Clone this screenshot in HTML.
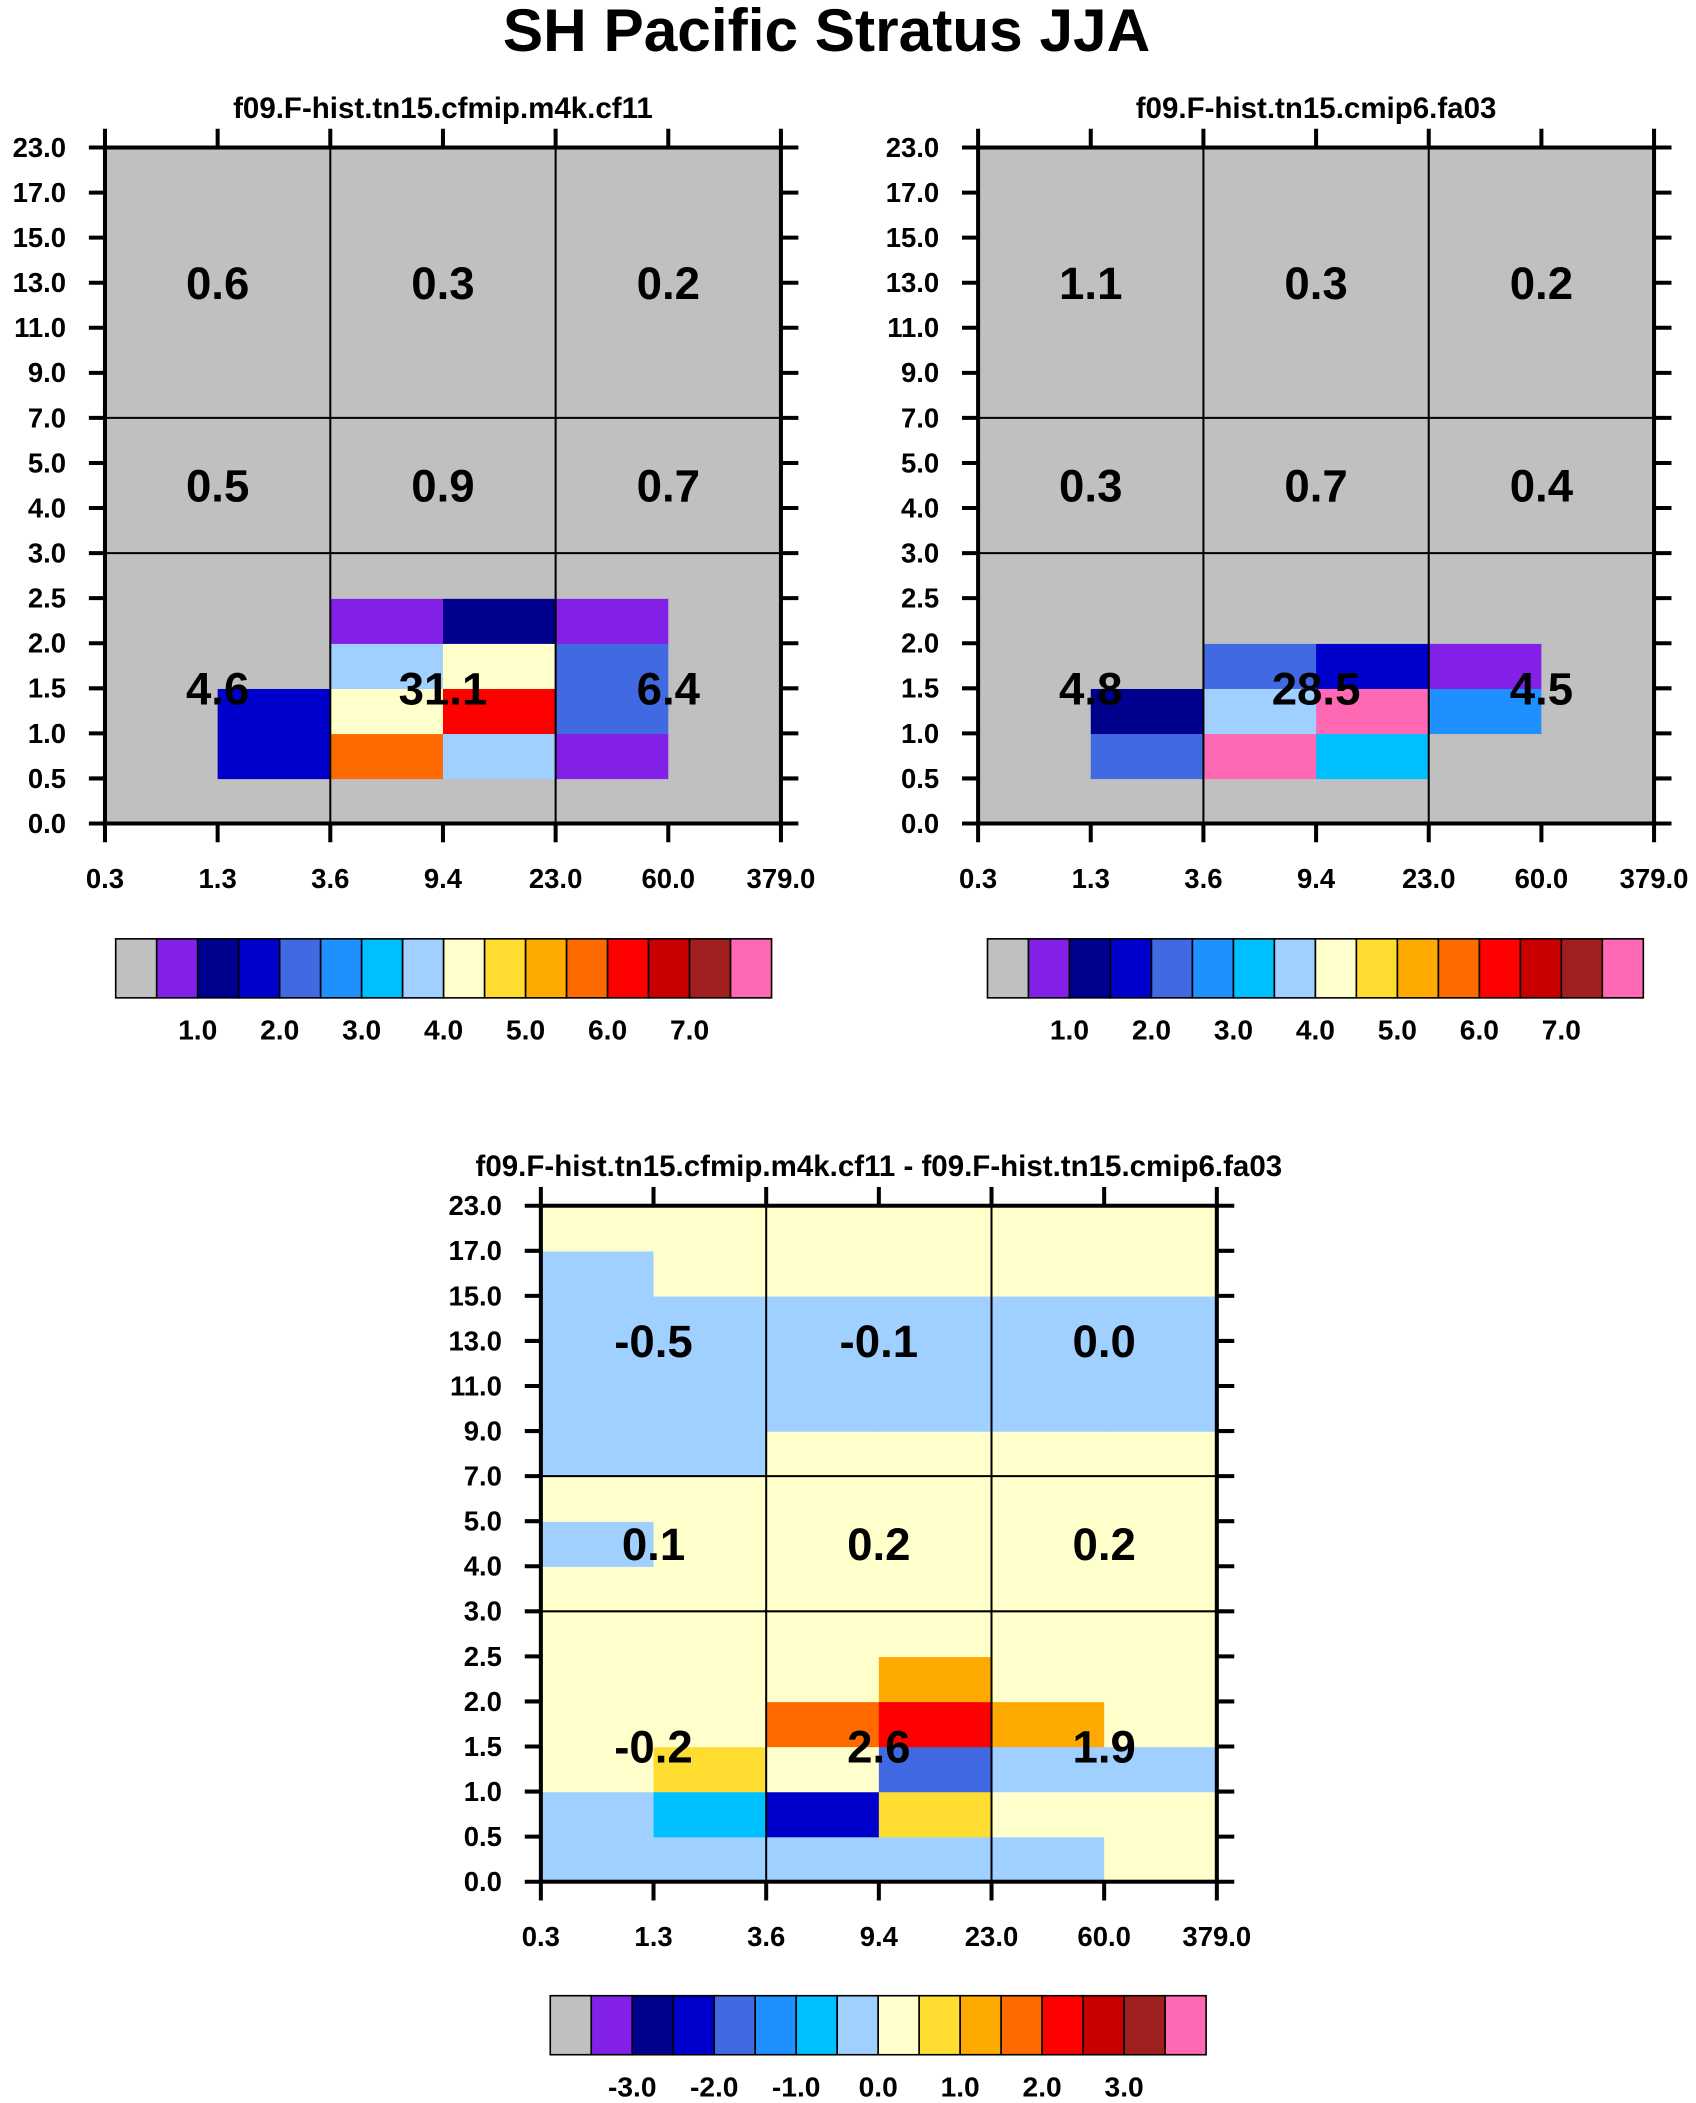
<!DOCTYPE html>
<html><head><meta charset="utf-8"><style>
html,body{margin:0;padding:0;background:#fff;}
svg{display:block;font-family:"Liberation Sans",Arial,sans-serif;font-weight:bold;}
</style></head><body>
<svg id="fig" width="1696" height="2103" viewBox="0 0 1264 1568" xmlns="http://www.w3.org/2000/svg">
<text x="616" y="38" font-size="45" text-anchor="middle">SH Pacific Stratus JJA</text>
</svg>
<script>
const xTickLabels=["0.3","1.3","3.6","9.4","23.0","60.0","379.0"];
const yTickLabels=["0.0","0.5","1.0","1.5","2.0","2.5","3.0","4.0","5.0","7.0","9.0","11.0","13.0","15.0","17.0","23.0"];
const palette=["#c0c0c0","#8220e8","#00008f","#0000cd","#4169e1","#1e90ff","#00bfff","#a0d0ff","#ffffcc","#ffdd30","#ffaa00","#ff6a00","#ff0000","#c80000","#a02020","#ff69b4"];
const levelsA=[0.5,1,1.5,2,2.5,3,3.5,4,4.5,5,5.5,6,6.5,7,7.5];
const levelsD=[-3.5,-3,-2.5,-2,-1.5,-1,-0.5,0,0.5,1,1.5,2,2.5,3,3.5];
const barLabelsA=["1.0","2.0","3.0","4.0","5.0","6.0","7.0"];
const barLabelsD=["-3.0","-2.0","-1.0","0.0","1.0","2.0","3.0"];
const valuesA=[
[0.2,0.2,0.2,0.2,0.2,0.2],
[0.2,1.8,5.8,3.8,0.8,0.2],
[0.2,1.8,4.2,6.2,2.2,0.2],
[0.2,0.2,3.8,4.2,2.2,0.2],
[0.2,0.2,0.8,1.2,0.8,0.2],
[0.2,0.2,0.2,0.2,0.2,0.2],[0.2,0.2,0.2,0.2,0.2,0.2],[0.2,0.2,0.2,0.2,0.2,0.2],[0.2,0.2,0.2,0.2,0.2,0.2],
[0.2,0.2,0.2,0.2,0.2,0.2],[0.2,0.2,0.2,0.2,0.2,0.2],[0.2,0.2,0.2,0.2,0.2,0.2],[0.2,0.2,0.2,0.2,0.2,0.2],
[0.2,0.2,0.2,0.2,0.2,0.2],[0.2,0.2,0.2,0.2,0.2,0.2]];
const valuesB=[
[0.2,0.2,0.2,0.2,0.2,0.2],
[0.2,2.2,7.8,3.2,0.2,0.2],
[0.2,1.2,3.8,7.8,2.8,0.2],
[0.2,0.2,2.2,1.8,0.8,0.2],
[0.2,0.2,0.2,0.2,0.2,0.2],
[0.2,0.2,0.2,0.2,0.2,0.2],[0.2,0.2,0.2,0.2,0.2,0.2],[0.2,0.2,0.2,0.2,0.2,0.2],[0.2,0.2,0.2,0.2,0.2,0.2],
[0.2,0.2,0.2,0.2,0.2,0.2],[0.2,0.2,0.2,0.2,0.2,0.2],[0.2,0.2,0.2,0.2,0.2,0.2],[0.2,0.2,0.2,0.2,0.2,0.2],
[0.2,0.2,0.2,0.2,0.2,0.2],[0.2,0.2,0.2,0.2,0.2,0.2]];
const valuesD=[
[-0.2,-0.2,-0.2,-0.2,-0.2,0.2],
[-0.2,-0.8,-2.2,0.8,0.2,0.2],
[0.2,0.8,0.2,-1.8,-0.2,-0.2],
[0.2,0.2,1.8,2.2,1.2,0.2],
[0.2,0.2,0.2,1.2,0.2,0.2],
[0.2,0.2,0.2,0.2,0.2,0.2],
[0.2,0.2,0.2,0.2,0.2,0.2],
[-0.2,0.2,0.2,0.2,0.2,0.2],
[0.2,0.2,0.2,0.2,0.2,0.2],
[-0.2,-0.2,0.2,0.2,0.2,0.2],
[-0.2,-0.2,-0.2,-0.2,-0.2,-0.2],
[-0.2,-0.2,-0.2,-0.2,-0.2,-0.2],
[-0.2,-0.2,-0.2,-0.2,-0.2,-0.2],
[-0.2,0.2,0.2,0.2,0.2,0.2],
[0.2,0.2,0.2,0.2,0.2,0.2]];
const totalsA=[["0.6","0.3","0.2"],["0.5","0.9","0.7"],["4.6","31.1","6.4"]];
const totalsB=[["1.1","0.3","0.2"],["0.3","0.7","0.4"],["4.8","28.5","4.5"]];
const totalsD=[["-0.5","-0.1","0.0"],["0.1","0.2","0.2"],["-0.2","2.6","1.9"]];

const NS="http://www.w3.org/2000/svg";
const svg=document.getElementById('fig');
function el(tag,attrs,parent){const e=document.createElementNS(NS,tag);for(const k in attrs)e.setAttribute(k,attrs[k]);(parent||svg).appendChild(e);return e;}
function colorOf(v,levels){let i=0;while(i<levels.length&&v>=levels[i])i++;return palette[i];}

function panel(name,x0,y0,title,vals,levels,totals,barX,barY,barLabels){
  const W=504,H=504,nx=6,ny=15;
  const g=el('g',{});
  
  
  const xs=i=>x0+i*W/nx, ys=j=>y0+H-j*H/ny;
  const t=el('text',{x:x0+W/2,y:y0-22,'font-size':22,'text-anchor':'middle'},g);
  
  
  t.textContent=title;
  for(let j=0;j<ny;j++)for(let i=0;i<nx;i++){
    const r=el('rect',{x:xs(i),y:ys(j+1),width:W/nx+0.5,height:H/ny+0.5,fill:colorOf(vals[j][i],levels)},g);
    
    
  }
  [2,4].forEach(i=>{const l=el('line',{x1:xs(i),x2:xs(i),y1:y0,y2:y0+H,stroke:'#000','stroke-width':1.5},g);
    });
  [6,9].forEach(j=>{const l=el('line',{x1:x0,x2:x0+W,y1:ys(j),y2:ys(j),stroke:'#000','stroke-width':1.5},g);
    });
  const b=el('rect',{x:x0,y:y0,width:W,height:H,fill:'none',stroke:'#000','stroke-width':3},g);
  
  yTickLabels.forEach((lab,j)=>{
    const y=ys(j);
    el('line',{x1:x0-12,x2:x0,y1:y,y2:y,stroke:'#000','stroke-width':3},g);
    el('line',{x1:x0+W,x2:x0+W+13,y1:y,y2:y,stroke:'#000','stroke-width':3},g);
    const tt=el('text',{x:x0-29,y:y+7,'font-size':20.5,'text-anchor':'end'},g);
    
    tt.textContent=lab;
  });
  xTickLabels.forEach((lab,i)=>{
    const x=xs(i);
    el('line',{x1:x,x2:x,y1:y0-14,y2:y0,stroke:'#000','stroke-width':3},g);
    el('line',{x1:x,x2:x,y1:y0+H,y2:y0+H+14,stroke:'#000','stroke-width':3},g);
    const tt=el('text',{x:x,y:y0+H+48,'font-size':20.5,'text-anchor':'middle'},g);
    
    tt.textContent=lab;
  });
  const cy=[ (ys(15)+ys(9))/2, (ys(9)+ys(6))/2, (ys(6)+ys(0))/2 ];
  totals.forEach((row,r)=>row.forEach((s,c)=>{
    const tt=el('text',{x:xs(2*c+1),y:cy[r]+12,'font-size':34,'text-anchor':'middle'},g);
    
    tt.textContent=s;
  }));
  const bw=489/16;
  const cb=el('g',{},g);
  
  palette.forEach((c,k)=>{
    const r=el('rect',{x:barX+k*bw,y:barY,width:bw,height:44,fill:c,stroke:'#000','stroke-width':1.2},cb);
    
  });
  barLabels.forEach((lab,k)=>{
    const tt=el('text',{x:barX+(2+2*k)*bw,y:barY+75,'font-size':21,'text-anchor':'middle'},cb);
    
    tt.textContent=lab;
  });
}
panel('panel-cf11',78,110,'f09.F-hist.tn15.cfmip.m4k.cf11',valuesA,levelsA,totalsA,86,700,barLabelsA);
panel('panel-fa03',729,110,'f09.F-hist.tn15.cmip6.fa03',valuesB,levelsA,totalsB,736,700,barLabelsA);
panel('panel-difference',403,899,'f09.F-hist.tn15.cfmip.m4k.cf11 - f09.F-hist.tn15.cmip6.fa03',valuesD,levelsD,totalsD,410,1488,barLabelsD);
</script>
</body></html>
